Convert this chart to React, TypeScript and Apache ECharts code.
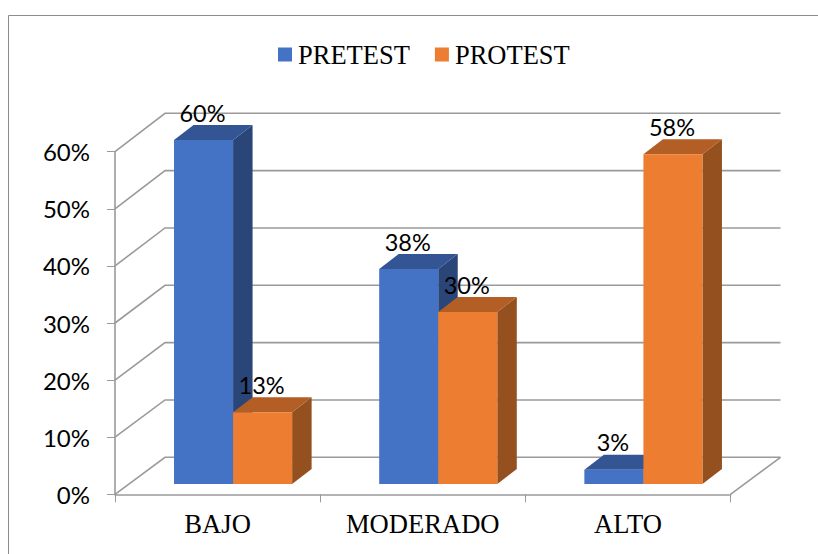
import React, { useEffect, useRef } from "react";
import * as echarts from "echarts";

const categories = ["BAJO", "MODERADO", "ALTO"];
const pretest = [0.6, 0.375, 0.025];
const protest = [0.125, 0.3, 0.575];
const yTicks = [0, 0.1, 0.2, 0.3, 0.4, 0.5, 0.6];

const SERIF = '"Liberation Serif", "Times New Roman", serif';
const SANS = 'Lato, "Noto Sans", sans-serif';
const GRID_COLOR = "#9a9a9a";

const pct = (v: number) => `${Math.round(Number((v * 100).toFixed(4)))}%`;

function wallItem(params: any, api: any) {
  const tick = api.value(1);
  const cs = params.coordSys;
  const y = api.coord([0, tick])[1];
  const zeroY = cs.y + cs.height;
  const left = cs.x;
  const right = cs.x + cs.width;
  const dx = 50;
  const dy = 37 + (tick / 0.6) * 1.4;
  const children: any[] = [
    {
      type: "polyline",
      shape: { points: [[left, y], [left + dx, y - dy], [right + dx, y - dy]] },
      style: { stroke: GRID_COLOR, lineWidth: 1.6, fill: "none" },
    },
  ];
  if (tick === 0) {
    children.push({
      type: "line",
      shape: { x1: right, y1: zeroY, x2: right + dx, y2: zeroY - dy },
      style: { stroke: GRID_COLOR, lineWidth: 1.6 },
    });
  }
  return { type: "group", children };
}

function barItem(side: 0 | 1, front: string, top: string, flank: string) {
  return (params: any, api: any) => {
    const idx = api.value(0);
    const value = api.value(1);
    const cs = params.coordSys;
    const center = api.coord([idx, 0])[0];
    const band = api.size([1, 0])[0];
    const w = band * 0.2878;
    const zeroY = cs.y + cs.height;
    const mid = center + band * 0.0755;
    const x0 = side === 0 ? mid - w : mid;
    const x1 = x0 + w;
    const base = zeroY - 10.3;
    const yt = base - (zeroY - api.coord([idx, value])[1]) * 1.004;
    const dx = 19.5;
    const dy = 15;
    return {
      type: "group",
      children: [
        {
          type: "polygon",
          shape: { points: [[x1, yt], [x1 + dx, yt - dy], [x1 + dx, base - dy], [x1, base]] },
          style: { fill: flank },
        },
        {
          type: "polygon",
          shape: { points: [[x0, yt], [x0 + dx, yt - dy], [x1 + dx, yt - dy], [x1, yt]] },
          style: { fill: top },
        },
        {
          type: "rect",
          shape: { x: x0, y: yt, width: w, height: base - yt },
          style: { fill: front },
        },
        {
          type: "text",
          style: {
            x: (x0 + x1) / 2 - 1,
            y: yt - dy - 12.5,
            text: pct(value),
            fill: "#000",
            font: `23.5px ${SANS}`,
            align: "center",
            verticalAlign: "middle",
          },
        },
      ],
    };
  };
}

export default function App() {
  const ref = useRef<HTMLDivElement>(null);

  useEffect(() => {
    document.body.style.margin = "0";
    const chart = echarts.init(ref.current!, null, { renderer: "svg" });
    chart.setOption({
      animation: false,
      backgroundColor: "#fff",
      graphic: [
        {
          type: "polyline",
          silent: true,
          shape: { points: [[8.5, 554], [8.5, 15.5], [818, 15.5]] },
          style: { stroke: "#8c8c8c", lineWidth: 1, fill: "none" },
        },
      ],
      legend: {
        data: ["PRETEST", "PROTEST"],
        left: 278,
        top: 41,
        padding: 0,
        itemWidth: 14,
        itemHeight: 14,
        itemGap: 25,
        icon: "rect",
        selectedMode: false,
        textStyle: { fontFamily: SERIF, fontSize: 26.5, color: "#000", padding: [0, 0, 0, 1] },
      },
      grid: { left: 115, top: 151.7, width: 615.5, height: 342.6, containLabel: false },
      xAxis: {
        type: "category",
        data: categories,
        axisLine: { lineStyle: { color: GRID_COLOR, width: 1.6 } },
        axisTick: { show: true, alignWithLabel: false, length: 8, lineStyle: { color: GRID_COLOR, width: 1 } },
        axisLabel: { fontFamily: SERIF, fontSize: 26.6, color: "#000", margin: 16 },
      },
      yAxis: {
        type: "value",
        min: 0,
        max: 0.6,
        interval: 0.1,
        splitLine: { show: false },
        axisLine: { show: true, lineStyle: { color: GRID_COLOR, width: 1.6 } },
        axisTick: { show: true, length: 8, lineStyle: { color: GRID_COLOR, width: 1 } },
        axisLabel: { fontFamily: SANS, fontSize: 24, color: "#000", margin: 25, formatter: (v: number) => pct(v) },
      },
      series: [
        {
          type: "custom",
          name: "walls",
          silent: true,
          z: 1,
          clip: false,
          renderItem: wallItem,
          encode: { x: 0, y: 1 },
          data: yTicks.map((t) => [0, t]),
        },
        {
          type: "custom",
          name: "PRETEST",
          z: 2,
          clip: false,
          itemStyle: { color: "#4472C4" },
          renderItem: barItem(0, "#4472C4", "#335593", "#2A4678"),
          encode: { x: 0, y: 1 },
          data: pretest.map((v, i) => [i, v]),
        },
        {
          type: "custom",
          name: "PROTEST",
          z: 3,
          clip: false,
          itemStyle: { color: "#ED7D31" },
          renderItem: barItem(1, "#ED7D31", "#B25E25", "#94501F"),
          encode: { x: 0, y: 1 },
          data: protest.map((v, i) => [i, v]),
        },
      ],
    });
    return () => chart.dispose();
  }, []);

  return <div ref={ref} style={{ position: "absolute", left: 0, top: 0, width: 818, height: 554 }} />;
}
